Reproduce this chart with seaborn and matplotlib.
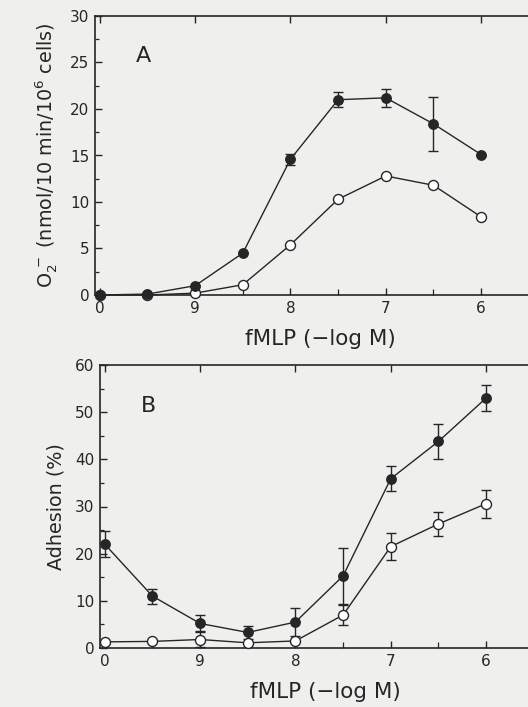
import numpy as np
import pandas as pd
import matplotlib
matplotlib.use("Agg")
import matplotlib.pyplot as plt
import seaborn as sns
from matplotlib.ticker import MultipleLocator, FixedLocator

# x categories (fMLP, -log M); plotted at equal spacing
tick_labels = ["0", "9", "8", "7", "6"]
tick_pos = [0, 1, 2, 3, 4]
pos = [0, 0.5, 1, 1.5, 2, 2.5, 3, 3.5, 4]

# Panel A: superoxide production
a_filled = [0.0, 0.1, 1.0, 4.5, 14.6, 21.0, 21.2, 18.4, 15.1]
a_filled_err = [0, 0, 0, 0, 0.6, 0.8, 1.0, 2.9, 0]
a_open = [0.0, 0.0, 0.2, 1.1, 5.4, 10.3, 12.8, 11.8, 8.4]
a_open_err = [0, 0, 0, 0, 0, 0, 0, 0, 0]

# Panel B: adhesion
b_filled = [22.0, 11.0, 5.2, 3.3, 5.5, 15.3, 35.9, 43.8, 53.0]
b_filled_err = [2.7, 1.6, 1.7, 1.3, 3.0, 6.0, 2.6, 3.7, 2.7]
b_open = [1.3, 1.4, 1.8, 1.1, 1.5, 7.0, 21.5, 26.3, 30.6]
b_open_err = [0, 0, 1.5, 0, 0, 2.2, 2.8, 2.6, 3.0]

sns.set_theme(style="ticks")
ink = "#262626"
bg = "#efefed"
plt.rcParams.update({
    "font.family": ["DejaVu Sans"],
    "text.color": ink,
    "axes.labelcolor": ink,
    "xtick.color": ink,
    "ytick.color": ink,
    "axes.edgecolor": ink,
})

fig = plt.figure(figsize=(5.28, 7.07), dpi=100)
fig.patch.set_facecolor(bg)

W, H = 528.0, 707.0
axA = fig.add_axes([95 / W, (H - 295) / H, (545 - 95) / W, (295 - 16) / H])
axB = fig.add_axes([100 / W, (H - 648) / H, (550 - 100) / W, (648 - 365) / H])


def panel(ax, filled, ferr, opn, oerr, ymax, ymajor, yminor, letter, ylabel):
    ax.set_facecolor(bg)
    df = pd.DataFrame({"pos": pos * 2,
                       "val": list(filled) + list(opn),
                       "grp": ["filled"] * len(pos) + ["open"] * len(pos)})
    ax.errorbar(pos, opn, yerr=oerr, fmt="none", ecolor=ink, elinewidth=1.0,
                capsize=3.6, capthick=1.0, zorder=2)
    ax.errorbar(pos, filled, yerr=ferr, fmt="none", ecolor=ink, elinewidth=1.0,
                capsize=3.6, capthick=1.0, zorder=2)
    sns.lineplot(data=df[df.grp == "open"], x="pos", y="val", ax=ax,
                 color=ink, lw=1.0, marker="o", markersize=7.2,
                 markerfacecolor="white", markeredgecolor=ink,
                 markeredgewidth=1.0, zorder=3, legend=False)
    sns.lineplot(data=df[df.grp == "filled"], x="pos", y="val", ax=ax,
                 color=ink, lw=1.0, marker="o", markersize=6.8,
                 markerfacecolor=ink, markeredgecolor=ink,
                 markeredgewidth=1.0, zorder=4, legend=False)
    for ln in ax.lines:
        ln.set_clip_on(False)
    ax.set_xlim(-0.05, 4.67)
    ax.set_ylim(0, ymax)
    ax.xaxis.set_major_locator(FixedLocator(tick_pos))
    ax.set_xticklabels(tick_labels)
    ax.xaxis.set_minor_locator(FixedLocator([0.5, 1.5, 2.5, 3.5, 4.5]))
    ax.yaxis.set_major_locator(MultipleLocator(ymajor))
    ax.yaxis.set_minor_locator(MultipleLocator(yminor))
    ax.tick_params(axis="both", which="major", direction="in", length=5,
                   width=1.0, labelsize=11, top=True, pad=4)
    ax.tick_params(axis="y", which="minor", direction="in", length=3, width=0.9)
    ax.tick_params(axis="x", which="minor", direction="in", length=4, width=0.9,
                   top=False)
    for s in ax.spines.values():
        s.set_linewidth(1.2)
    ax.set_xlabel("fMLP (\u2212log M)", fontsize=15.5, labelpad=10)
    ax.set_ylabel(ylabel, fontsize=13.8, labelpad=7)
    ax.text(0.09, 0.855, letter, transform=ax.transAxes, fontsize=16,
            color=ink, ha="left", va="center")


panel(axA, a_filled, a_filled_err, a_open, a_open_err, 30, 5, 2.5, "A",
      r"O$_2^{\,-}$ (nmol/10 min/10$^6$ cells)")
panel(axB, b_filled, b_filled_err, b_open, b_open_err, 60, 10, 5, "B",
      "Adhesion (%)")

fig.savefig("out.png", dpi=100, facecolor=bg)
